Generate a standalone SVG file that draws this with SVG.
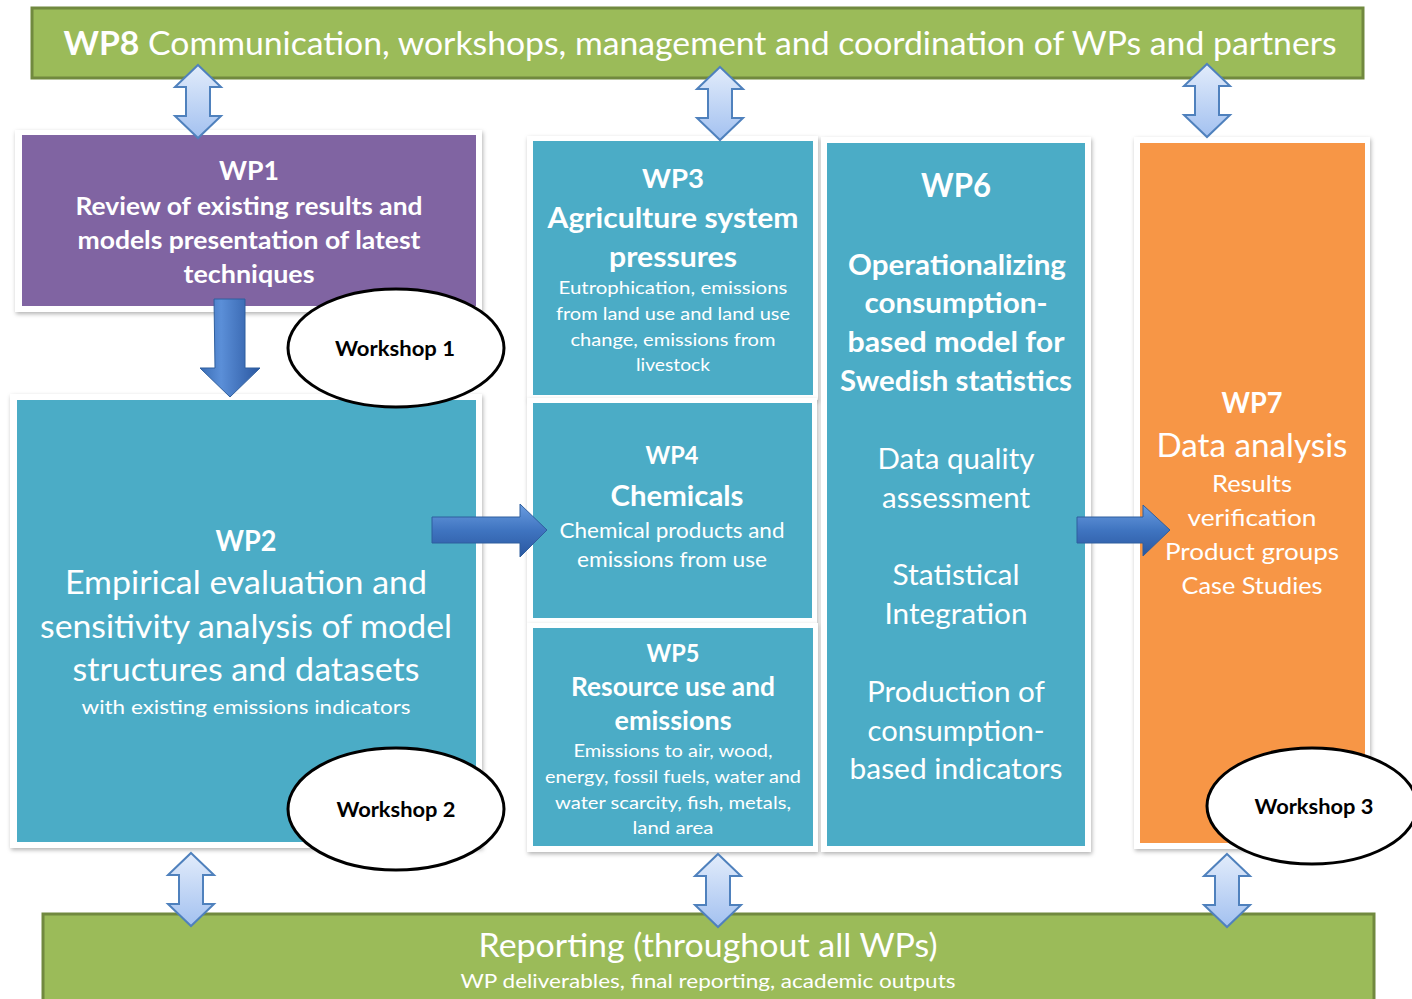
<svg xmlns="http://www.w3.org/2000/svg" xmlns:xlink="http://www.w3.org/1999/xlink" width="1412" height="999" viewBox="0 0 1412 999">
<style>
.t{font-family:Lato,"Open Sans","Liberation Sans",sans-serif;fill:#fff;text-anchor:middle}
.b{font-weight:bold}
.frame{fill:#fff;filter:url(#sh)}
.teal{fill:#4bacc6}
.ws{fill:#fff;stroke:#000;stroke-width:3}
.wt{font-family:Lato,"Open Sans","Liberation Sans",sans-serif;font-weight:bold;fill:#000;text-anchor:middle;font-size:21px}
.bar{fill:#9bbb59;stroke:#71893f;stroke-width:3}
.dbl{fill:url(#lg);stroke:#4f81bd;stroke-width:2}
.big{stroke:#2f5f9e;stroke-width:1}
</style>
<defs>
<filter id="sh" x="-5%" y="-5%" width="110%" height="110%"><feDropShadow dx="1" dy="2" stdDeviation="2" flood-color="#000" flood-opacity="0.3"/></filter>
<linearGradient id="lg" x1="0" y1="0" x2="0" y2="1"><stop offset="0" stop-color="#e2ecfb"/><stop offset="1" stop-color="#a3c1f0"/></linearGradient>
<linearGradient id="bg" x1="0" y1="0" x2="0" y2="1"><stop offset="0" stop-color="#6a9ce0"/><stop offset="0.5" stop-color="#3f74c0"/><stop offset="1" stop-color="#2a57a0"/></linearGradient>
<linearGradient id="bgh" x1="0" y1="0" x2="1" y2="0"><stop offset="0" stop-color="#3a6db5"/><stop offset="0.35" stop-color="#5b8fd8"/><stop offset="1" stop-color="#2a57a0"/></linearGradient>
<path id="da" d="M0,0 L23,22 L12,22 L12,51 L23,51 L0,73 L-23,51 L-12,51 L-12,22 L-23,22 Z"/>
</defs>

<g id="wp8">
<rect class="bar" x="32" y="8" width="1331" height="70"/>
<text class="t" x="700" y="55" font-size="32" textLength="1273" lengthAdjust="spacingAndGlyphs"><tspan class="b">WP8</tspan> Communication, workshops, management and coordination of WPs and partners</text>
</g>

<g id="reporting">
<rect class="bar" x="43" y="914" width="1331" height="100"/>
<text class="t" x="708" y="957" font-size="32" textLength="459" lengthAdjust="spacingAndGlyphs">Reporting (throughout all WPs)</text>
<text class="t" x="708" y="988" font-size="20" textLength="495" lengthAdjust="spacingAndGlyphs">WP deliverables, final reporting, academic outputs</text>
</g>

<g id="wp1">
<rect class="frame" x="15" y="130" width="467" height="182"/>
<rect x="22" y="135" width="454" height="171" fill="#8064a2"/>
<text class="t b" x="249" y="180" font-size="27" textLength="60" lengthAdjust="spacingAndGlyphs">WP1</text>
<text class="t b" x="249" y="215" font-size="25" textLength="347" lengthAdjust="spacingAndGlyphs">Review of existing results and</text>
<text class="t b" x="249" y="249" font-size="25" textLength="343" lengthAdjust="spacingAndGlyphs">models presentation of latest</text>
<text class="t b" x="249" y="283" font-size="25" textLength="131" lengthAdjust="spacingAndGlyphs">techniques</text>
</g>

<g id="wp2">
<rect class="frame" x="10" y="394" width="472" height="454"/>
<rect class="teal" x="17" y="400" width="459" height="442"/>
<text class="t b" x="246" y="551" font-size="28" textLength="61" lengthAdjust="spacingAndGlyphs">WP2</text>
<text class="t" x="246" y="594" font-size="32" textLength="362" lengthAdjust="spacingAndGlyphs">Empirical evaluation and</text>
<text class="t" x="246" y="638" font-size="32" textLength="412" lengthAdjust="spacingAndGlyphs">sensitivity analysis of model</text>
<text class="t" x="246" y="681" font-size="32" textLength="347" lengthAdjust="spacingAndGlyphs">structures and datasets</text>
<text class="t" x="246" y="714" font-size="20" textLength="329" lengthAdjust="spacingAndGlyphs">with existing emissions indicators</text>
</g>

<g id="wp3">
<rect class="frame" x="527" y="136" width="291" height="264"/>
<rect class="teal" x="533" y="141" width="280" height="254"/>
<text class="t b" x="673" y="188" font-size="26" textLength="62" lengthAdjust="spacingAndGlyphs">WP3</text>
<text class="t b" x="673" y="228" font-size="28" textLength="251" lengthAdjust="spacingAndGlyphs">Agriculture system</text>
<text class="t b" x="673" y="267" font-size="28" textLength="128" lengthAdjust="spacingAndGlyphs">pressures</text>
<text class="t" x="673" y="294" font-size="18" textLength="229" lengthAdjust="spacingAndGlyphs">Eutrophication,  emissions</text>
<text class="t" x="673" y="320" font-size="18" textLength="234" lengthAdjust="spacingAndGlyphs">from land use and land use</text>
<text class="t" x="673" y="346" font-size="18" textLength="205" lengthAdjust="spacingAndGlyphs">change, emissions from</text>
<text class="t" x="673" y="371" font-size="18" textLength="74" lengthAdjust="spacingAndGlyphs">livestock</text>
</g>

<g id="wp4">
<rect class="frame" x="527" y="398" width="290" height="225"/>
<rect class="teal" x="533" y="403" width="279" height="215"/>
<text class="t b" x="672" y="464" font-size="24" textLength="53" lengthAdjust="spacingAndGlyphs">WP4</text>
<text class="t b" x="677" y="506" font-size="28" textLength="133" lengthAdjust="spacingAndGlyphs">Chemicals</text>
<text class="t" x="672" y="538" font-size="21" textLength="225" lengthAdjust="spacingAndGlyphs">Chemical products and</text>
<text class="t" x="672" y="567" font-size="21" textLength="190" lengthAdjust="spacingAndGlyphs">emissions from use</text>
</g>

<g id="wp5">
<rect class="frame" x="527" y="623" width="291" height="229"/>
<rect class="teal" x="533" y="628" width="280" height="218"/>
<text class="t b" x="673" y="662" font-size="24" textLength="53" lengthAdjust="spacingAndGlyphs">WP5</text>
<text class="t b" x="673" y="696" font-size="26" textLength="204" lengthAdjust="spacingAndGlyphs">Resource use and</text>
<text class="t b" x="673" y="730" font-size="26" textLength="117" lengthAdjust="spacingAndGlyphs">emissions</text>
<text class="t" x="673" y="757" font-size="18" textLength="199" lengthAdjust="spacingAndGlyphs">Emissions to air, wood,</text>
<text class="t" x="673" y="783" font-size="18" textLength="256" lengthAdjust="spacingAndGlyphs">energy, fossil fuels, water and</text>
<text class="t" x="673" y="809" font-size="18" textLength="236" lengthAdjust="spacingAndGlyphs">water scarcity, fish, metals,</text>
<text class="t" x="673" y="834" font-size="18" textLength="81" lengthAdjust="spacingAndGlyphs">land area</text>
</g>

<g id="wp6">
<rect class="frame" x="821" y="137" width="270" height="715"/>
<rect class="teal" x="827" y="143" width="258" height="703"/>
<text class="t b" x="956" y="197" font-size="32" textLength="70" lengthAdjust="spacingAndGlyphs">WP6</text>
<text class="t b" x="957" y="275" font-size="28" textLength="218" lengthAdjust="spacingAndGlyphs">Operationalizing</text>
<text class="t b" x="956" y="313" font-size="28" textLength="183" lengthAdjust="spacingAndGlyphs">consumption-</text>
<text class="t b" x="956" y="352" font-size="28" textLength="217" lengthAdjust="spacingAndGlyphs">based model for</text>
<text class="t b" x="956" y="391" font-size="28" textLength="232" lengthAdjust="spacingAndGlyphs">Swedish statistics</text>
<text class="t" x="956" y="469" font-size="28" textLength="157" lengthAdjust="spacingAndGlyphs">Data quality</text>
<text class="t" x="956" y="508" font-size="28" textLength="148" lengthAdjust="spacingAndGlyphs">assessment</text>
<text class="t" x="956" y="585" font-size="28" textLength="127" lengthAdjust="spacingAndGlyphs">Statistical</text>
<text class="t" x="956" y="624" font-size="28" textLength="143" lengthAdjust="spacingAndGlyphs">Integration</text>
<text class="t" x="956" y="702" font-size="28" textLength="178" lengthAdjust="spacingAndGlyphs">Production  of</text>
<text class="t" x="956" y="741" font-size="28" textLength="177" lengthAdjust="spacingAndGlyphs">consumption-</text>
<text class="t" x="956" y="779" font-size="28" textLength="213" lengthAdjust="spacingAndGlyphs">based indicators</text>
</g>

<g id="wp7">
<rect class="frame" x="1134" y="137" width="236" height="712"/>
<rect x="1140" y="143" width="225" height="700" fill="#f79646"/>
<text class="t b" x="1252" y="413" font-size="28" textLength="61" lengthAdjust="spacingAndGlyphs">WP7</text>
<text class="t" x="1252" y="457" font-size="32" textLength="191" lengthAdjust="spacingAndGlyphs">Data analysis</text>
<text class="t" x="1252" y="492" font-size="24" textLength="80" lengthAdjust="spacingAndGlyphs">Results</text>
<text class="t" x="1252" y="526" font-size="24" textLength="129" lengthAdjust="spacingAndGlyphs">verification</text>
<text class="t" x="1252" y="560" font-size="24" textLength="174" lengthAdjust="spacingAndGlyphs">Product groups</text>
<text class="t" x="1252" y="594" font-size="24" textLength="141" lengthAdjust="spacingAndGlyphs">Case Studies</text>
</g>

<g id="connectors">
<use xlink:href="#da" class="dbl" x="198" y="65"/>
<use xlink:href="#da" class="dbl" x="720" y="67"/>
<use xlink:href="#da" class="dbl" x="1207" y="64"/>
<use xlink:href="#da" class="dbl" x="191" y="853"/>
<use xlink:href="#da" class="dbl" x="718" y="854"/>
<use xlink:href="#da" class="dbl" x="1227" y="854"/>
<path class="big" fill="url(#bgh)" d="M214,299 L245,299 L245,368 L260,368 L230,397 L200,368 L215,368 Z"/>
<path class="big" fill="url(#bg)" d="M432,517 L520,517 L520,504 L547,530 L520,557 L520,543 L432,543 Z"/>
<path class="big" fill="url(#bg)" d="M1077,517 L1143,517 L1143,505 L1170,530 L1143,556 L1143,543 L1077,543 Z"/>
</g>

<g id="workshop1">
<ellipse class="ws" cx="396" cy="348" rx="108" ry="59"/>
<text class="wt" x="395" y="356" textLength="120" lengthAdjust="spacingAndGlyphs">Workshop 1</text>
</g>
<g id="workshop2">
<ellipse class="ws" cx="396" cy="809" rx="108" ry="61"/>
<text class="wt" x="396" y="817" textLength="119" lengthAdjust="spacingAndGlyphs">Workshop 2</text>
</g>
<g id="workshop3">
<ellipse class="ws" cx="1312" cy="806" rx="105" ry="58"/>
<text class="wt" x="1314" y="814" textLength="119" lengthAdjust="spacingAndGlyphs">Workshop 3</text>
</g>
</svg>
